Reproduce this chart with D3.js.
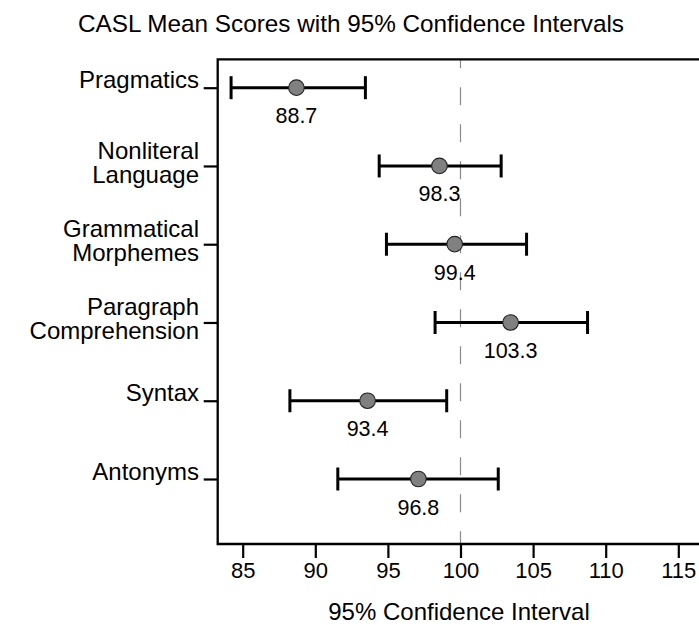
<!DOCTYPE html>
<html>
<head>
<meta charset="utf-8">
<script src="https://cdn.jsdelivr.net/npm/d3@7/dist/d3.min.js"></script>
<style>
  html, body { margin: 0; padding: 0; background: #fff; }
  svg { display: block; }
  text { font-family: "Liberation Sans", Arial, Helvetica, sans-serif; fill: #000; }
</style>
</head>
<body>
<div id="chart"></div>
<script>
// ---- data ----
const categories = [
  ["Pragmatics"],
  ["Nonliteral", "Language"],
  ["Grammatical", "Morphemes"],
  ["Paragraph", "Comprehension"],
  ["Syntax"],
  ["Antonyms"]
];
const pointValues = [88.7, 98.55, 99.6, 103.45, 93.6, 97.1];
const meanLabels  = ["88.7", "98.3", "99.4", "103.3", "93.4", "96.8"];
const ciLow  = [84.2, 94.4, 94.9, 98.25, 88.25, 91.55];
const ciHigh = [93.45, 102.8, 104.55, 108.75, 99.05, 102.6];
const xTicks = [85, 90, 95, 100, 105, 110, 115];
const referenceValue = 100;
const titleText = "CASL Mean Scores with 95% Confidence Intervals";
const xTitleText = "95% Confidence Interval";

// ---- layout ----
const W = 699, H = 625;
const frameLeft = 217.7, frameTop = 59.3, frameBottom = 544, frameRight = 705;

const svg = d3.select("#chart").append("svg").attr("width", W).attr("height", H);

const x = d3.scaleLinear().domain([85, 115]).range([242.7, 678.3]);
const keys = categories.map(c => c.join(" "));
const y = d3.scalePoint().domain(keys).range([87.7, 479]);

// title
svg.append("text").attr("x", 351).attr("y", 32)
  .attr("text-anchor", "middle").attr("font-size", 24.3).text(titleText);

// reference dashed line
svg.append("line")
  .attr("x1", x(referenceValue)).attr("x2", x(referenceValue))
  .attr("y1", frameTop).attr("y2", frameBottom)
  .attr("stroke", "#8a8a8a").attr("stroke-width", 1.2)
  .attr("stroke-dasharray", "18 19").attr("stroke-dashoffset", 9);

// frame (left, top, bottom)
svg.append("path")
  .attr("d", `M${frameRight},${frameTop}H${frameLeft}V${frameBottom}H${frameRight}`)
  .attr("fill", "none").attr("stroke", "#000").attr("stroke-width", 2.3);

// x axis
const xAxis = d3.axisBottom(x).tickValues(xTicks).tickSize(14).tickPadding(5).tickFormat(d3.format("d"));
const gx = svg.append("g").attr("transform", `translate(0,${frameBottom})`).call(xAxis);
gx.select(".domain").remove();
gx.selectAll(".tick line").attr("stroke", "#000").attr("stroke-width", 2.2);
gx.selectAll(".tick text").attr("font-size", 22).attr("fill", "#000")
  .attr("font-family", "'Liberation Sans', Arial, Helvetica, sans-serif")
  .attr("dy", null).attr("y", 33.5);

// y axis
const yAxis = d3.axisLeft(y).tickSize(14).tickFormat("");
const gy = svg.append("g").attr("transform", `translate(${frameLeft},0)`).call(yAxis);
gy.select(".domain").remove();
gy.selectAll(".tick line").attr("stroke", "#000").attr("stroke-width", 2.2);

// category labels
const labelG = svg.append("g");
categories.forEach((lines, i) => {
  const cy = y(keys[i]);
  const t = labelG.append("text").attr("text-anchor", "end").attr("font-size", 24);
  if (lines.length === 1) {
    t.append("tspan").attr("x", 199).attr("y", cy + 0.5).text(lines[0]);
  } else {
    t.append("tspan").attr("x", 199).attr("y", cy - 7).text(lines[0]);
    t.append("tspan").attr("x", 199).attr("y", cy + 17).text(lines[1]);
  }
});

// error bars
const bars = svg.append("g");
keys.forEach((k, i) => {
  const cy = y(k);
  bars.append("line").attr("x1", x(ciLow[i])).attr("x2", x(ciHigh[i]))
    .attr("y1", cy).attr("y2", cy).attr("stroke", "#000").attr("stroke-width", 3);
  [ciLow[i], ciHigh[i]].forEach(v => {
    bars.append("line").attr("x1", x(v)).attr("x2", x(v))
      .attr("y1", cy - 11.5).attr("y2", cy + 11.5)
      .attr("stroke", "#000").attr("stroke-width", 3);
  });
  bars.append("circle").attr("cx", x(pointValues[i])).attr("cy", cy).attr("r", 7.8)
    .attr("fill", "#808080").attr("stroke", "#222").attr("stroke-width", 1.1);
  bars.append("text").attr("x", x(pointValues[i])).attr("y", cy + 35.5)
    .attr("text-anchor", "middle").attr("font-size", 21.5).text(meanLabels[i]);
});

// x axis title
svg.append("text").attr("x", x(referenceValue) - 1.5).attr("y", 620)
  .attr("text-anchor", "middle").attr("font-size", 24).text(xTitleText);
</script>
</body>
</html>
